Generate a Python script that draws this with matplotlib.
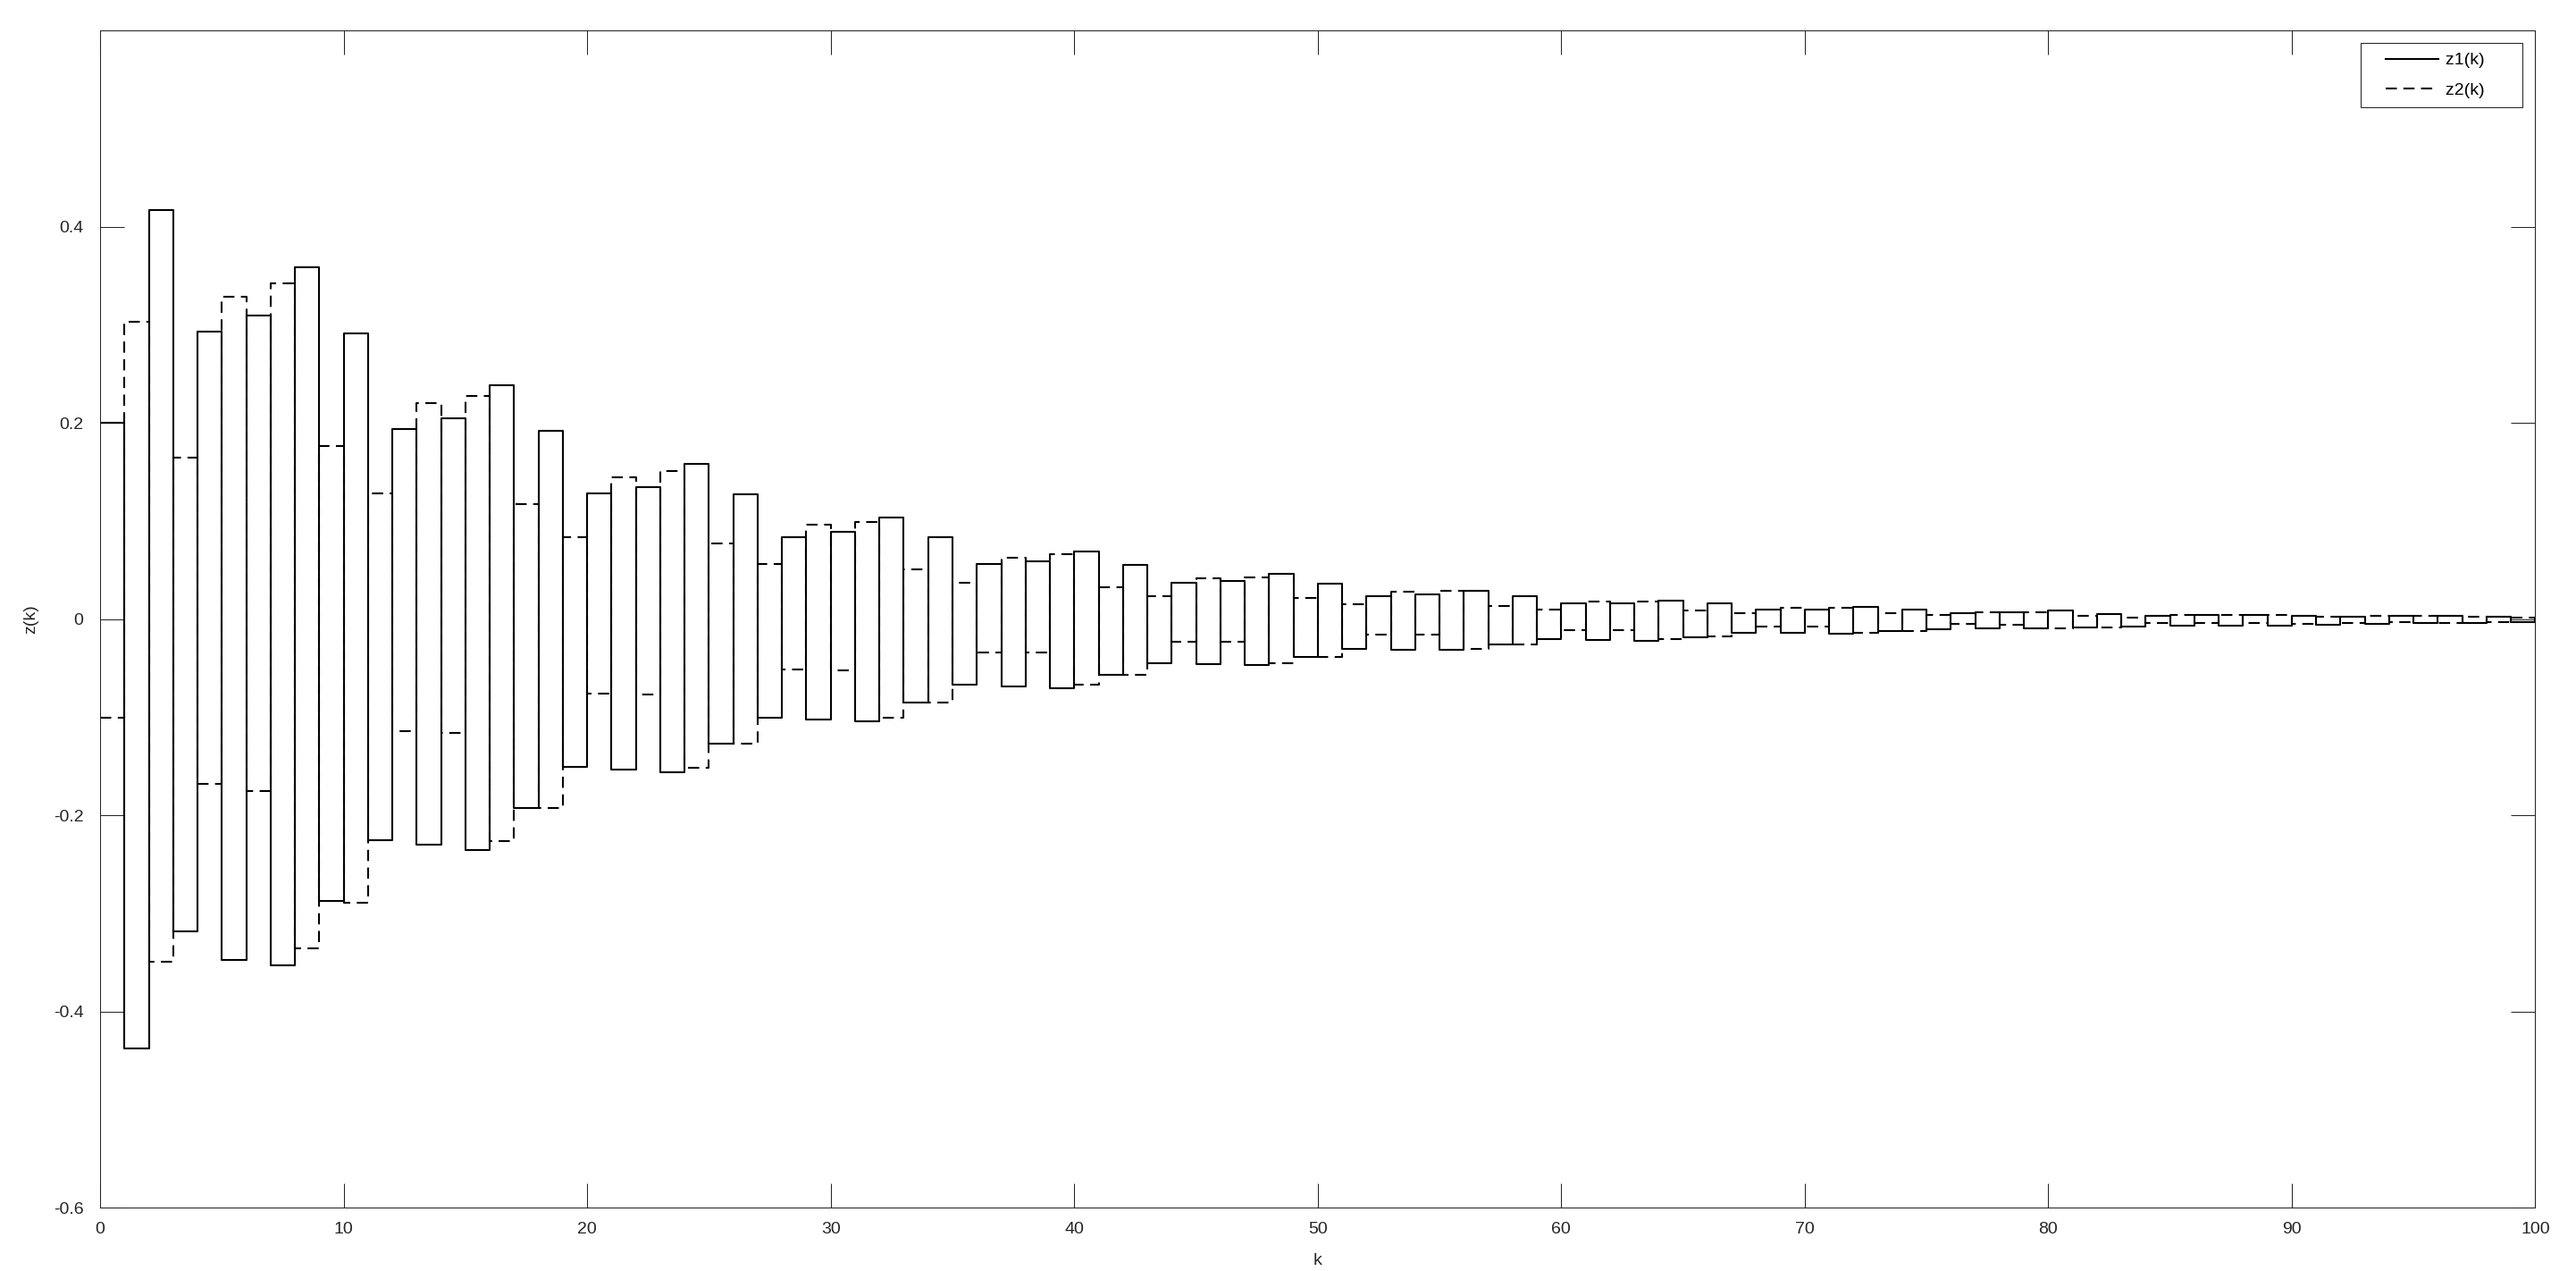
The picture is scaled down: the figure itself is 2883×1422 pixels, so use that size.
import numpy as np
import matplotlib.pyplot as plt
from matplotlib.legend_handler import HandlerLine2D

plt.rcParams['font.family'] = ['Liberation Sans', 'DejaVu Sans']

k = list(range(101))

z1 = [0.200, -0.437, 0.417, -0.318, 0.293, -0.347, 0.310, -0.353, 0.359, -0.287,
      0.291, -0.225, 0.194, -0.230, 0.205, -0.235, 0.239, -0.192, 0.192, -0.150,
      0.128, -0.153, 0.135, -0.156, 0.158, -0.127, 0.127, -0.100, 0.084, -0.102,
      0.089, -0.104, 0.104, -0.085, 0.084, -0.067, 0.056, -0.068, 0.059, -0.070,
      0.069, -0.057, 0.055, -0.045, 0.037, -0.046, 0.039, -0.047, 0.046, -0.038,
      0.036, -0.030, 0.024, -0.031, 0.025, -0.031, 0.029, -0.026, 0.024, -0.020,
      0.016, -0.021, 0.016, -0.022, 0.019, -0.018, 0.016, -0.014, 0.010, -0.014,
      0.010, -0.015, 0.013, -0.012, 0.010, -0.010, 0.006, -0.0095, 0.007, -0.0094,
      0.0088, -0.0079, 0.0058, -0.0073, 0.0034, -0.0064, 0.0043, -0.0064, 0.0042, -0.0064,
      0.0034, -0.0058, 0.0030, -0.0045, 0.0035, -0.0040, 0.0036, -0.0035, 0.0030, -0.0030,
      0.0020]

z2 = [-0.100, 0.303, -0.349, 0.165, -0.168, 0.329, -0.175, 0.342, -0.335, 0.177,
      -0.289, 0.128, -0.114, 0.220, -0.116, 0.228, -0.226, 0.117, -0.192, 0.084,
      -0.076, 0.145, -0.077, 0.151, -0.151, 0.077, -0.127, 0.056, -0.051, 0.096,
      -0.052, 0.099, -0.100, 0.051, -0.085, 0.037, -0.034, 0.063, -0.034, 0.066,
      -0.067, 0.033, -0.057, 0.024, -0.023, 0.042, -0.023, 0.043, -0.045, 0.022,
      -0.038, 0.015, -0.016, 0.028, -0.016, 0.029, -0.030, 0.014, -0.026, 0.010,
      -0.011, 0.018, -0.011, 0.018, -0.020, 0.009, -0.017, 0.006, -0.007, 0.012,
      -0.007, 0.012, -0.014, 0.006, -0.012, 0.004, -0.005, 0.0073, -0.0058, 0.0073,
      -0.0088, 0.0034, -0.0079, 0.0021, -0.0040, 0.0043, -0.0040, 0.0043, -0.0040, 0.0042,
      -0.0045, 0.0030, -0.0040, 0.0035, -0.0030, 0.0035, -0.0035, 0.0030, -0.0030, 0.0020,
      -0.0015]

xticks = [0, 10, 20, 30, 40, 50, 60, 70, 80, 90, 100]
yticks = [-0.6, -0.4, -0.2, 0, 0.2, 0.4]
ytick_labels = ['-0.6', '-0.4', '-0.2', '0', '0.2', '0.4']

fig = plt.figure(figsize=(28.83, 14.22), dpi=100)
ax = fig.add_axes([0.0389, 0.0496, 0.9453, 0.9263])

ax.step(k, z1, where='post', color='black', lw=1.5, label='z1(k)      ')
ax.step(k, z2, where='post', color='black', lw=1.5,
        linestyle=(0, (6, 3.5)), label='z2(k)      ')

ax.set_xlim(0, 100)
ax.set_ylim(-0.6, 0.6)
ax.set_xticks(xticks)
ax.set_xticklabels([str(t) for t in xticks])
ax.set_yticks(yticks)
ax.set_yticklabels(ytick_labels)

ax.tick_params(direction='in', length=19.5, width=0.75, colors='#262626',
               labelsize=14, top=True, right=True)
ax.tick_params(axis='x', pad=11.5)
ax.tick_params(axis='y', pad=13.5)
for axis in ['top', 'bottom', 'left', 'right']:
    ax.spines[axis].set_linewidth(0.75)
    ax.spines[axis].set_color('#262626')

ax.set_xlabel('k', fontsize=14, color='#262626', labelpad=13)
ax.set_ylabel('z(k)', fontsize=14, color='#262626', labelpad=12)

# push the legend lines away from the left edge of the box, as in the reference
hmap = {line: HandlerLine2D(xpad=0.88) for line in ax.get_lines()}
leg = ax.legend(loc='upper right', fontsize=14, fancybox=False, framealpha=1,
                edgecolor='#262626', handlelength=3.93, handletextpad=0.4,
                labelspacing=0.81, borderaxespad=0.72, borderpad=0.54,
                handler_map=hmap)
leg.get_frame().set_linewidth(0.75)

fig.savefig('out.png', dpi=100)
